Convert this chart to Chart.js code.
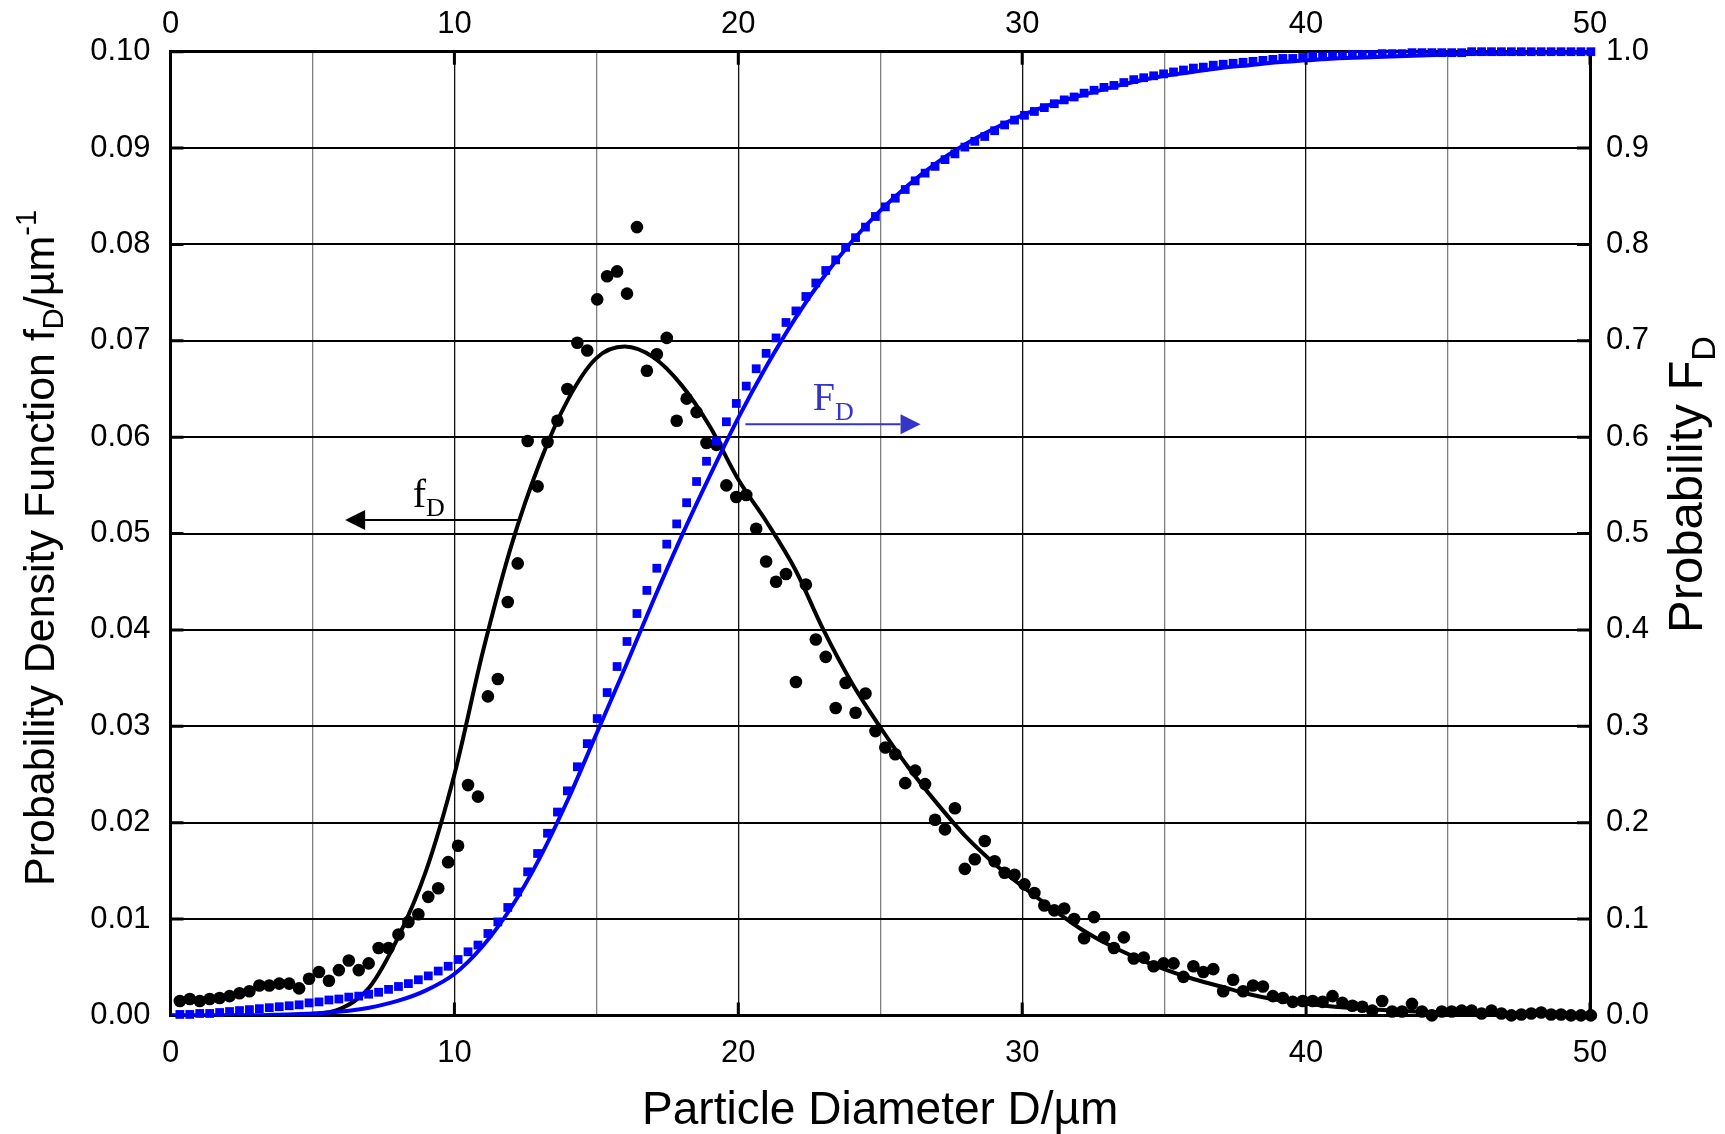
<!DOCTYPE html>
<html>
<head>
<meta charset="utf-8">
<title>Particle diameter distribution</title>
<script src="https://cdn.jsdelivr.net/npm/chart.js@4.4.1/dist/chart.umd.min.js"></script>
<style>
  html, body { margin: 0; padding: 0; background: #fff; }
  #wrap { width: 1725px; height: 1134px; }
</style>
</head>
<body>
<div id="wrap"><canvas id="psd" width="1725" height="1134"></canvas></div>
<script>
// Measured diameters (µm), shared by the density dots and the cumulative squares
const diam = [
  0.33, 0.68, 1.03, 1.38, 1.73, 2.08, 2.43, 2.78, 3.13, 3.48,
  3.83, 4.18, 4.53, 4.88, 5.23, 5.58, 5.93, 6.28, 6.63, 6.98,
  7.33, 7.68, 8.03, 8.38, 8.73, 9.08, 9.43, 9.78, 10.13, 10.48,
  10.83, 11.18, 11.53, 11.88, 12.23, 12.58, 12.93, 13.28, 13.63, 13.98,
  14.33, 14.68, 15.03, 15.38, 15.73, 16.08, 16.43, 16.78, 17.13, 17.48,
  17.83, 18.18, 18.53, 18.88, 19.23, 19.58, 19.93, 20.28, 20.63, 20.98,
  21.33, 21.68, 22.03, 22.38, 22.73, 23.08, 23.43, 23.78, 24.13, 24.48,
  24.83, 25.18, 25.53, 25.88, 26.23, 26.58, 26.93, 27.28, 27.63, 27.98,
  28.33, 28.68, 29.03, 29.38, 29.73, 30.08, 30.43, 30.78, 31.13, 31.48,
  31.83, 32.18, 32.53, 32.88, 33.23, 33.58, 33.93, 34.28, 34.63, 34.98,
  35.33, 35.68, 36.03, 36.38, 36.73, 37.08, 37.43, 37.78, 38.13, 38.48,
  38.83, 39.18, 39.53, 39.88, 40.23, 40.58, 40.93, 41.28, 41.63, 41.98,
  42.33, 42.68, 43.03, 43.38, 43.73, 44.08, 44.43, 44.78, 45.13, 45.48,
  45.83, 46.18, 46.53, 46.88, 47.23, 47.58, 47.93, 48.28, 48.63, 48.98,
  49.33, 49.68, 50.03
];

// Probability density f_D (left axis), black dots
const fMeasured = [
  0.0015, 0.0017, 0.0015, 0.0017, 0.0018, 0.0020, 0.0023, 0.0025, 0.0031, 0.0031,
  0.0033, 0.0033, 0.0028, 0.0038, 0.0045, 0.0036, 0.0047, 0.0057, 0.0047, 0.0054,
  0.0070, 0.0070, 0.0084, 0.0097, 0.0105, 0.0123, 0.0132, 0.0159, 0.0176, 0.0239,
  0.0227, 0.0331, 0.0349, 0.0429, 0.0469, 0.0596, 0.0549, 0.0595, 0.0617, 0.0650,
  0.0698, 0.0690, 0.0743, 0.0767, 0.0772, 0.0749, 0.0818, 0.0669, 0.0686, 0.0703,
  0.0617, 0.0640, 0.0626, 0.0594, 0.0592, 0.0550, 0.0538, 0.0540, 0.0505, 0.0471,
  0.0450, 0.0458, 0.0346, 0.0447, 0.0390, 0.0372, 0.0319, 0.0345, 0.0314, 0.0334,
  0.0295, 0.0278, 0.0271, 0.0241, 0.0254, 0.0240, 0.0203, 0.0193, 0.0215, 0.0152,
  0.0162, 0.0181, 0.0160, 0.0148, 0.0146, 0.0136, 0.0127, 0.0114, 0.0109, 0.0111,
  0.0100, 0.0080, 0.0102, 0.0081, 0.0070, 0.0081, 0.0059, 0.0060, 0.0051, 0.0054,
  0.0054, 0.0040, 0.0051, 0.0045, 0.0048, 0.0025, 0.0037, 0.0025, 0.0031, 0.0030,
  0.0020, 0.0018, 0.0014, 0.0015, 0.0015, 0.0014, 0.0020, 0.0013, 0.0010, 0.0009,
  0.0005, 0.0015, 0.0004, 0.0004, 0.0012, 0.0004, 0.0000, 0.0004, 0.0004, 0.0005,
  0.0005, 0.0002, 0.0005, 0.0002, 0.0000, 0.0001, 0.0002, 0.0003, 0.0001, 0.0001,
  0.0000, 0.0000, 0.0000
];

// Cumulative probability F_D (right axis), blue squares
const FMeasured = [
  0.001, 0.001, 0.002, 0.002, 0.003, 0.004, 0.005, 0.006, 0.007, 0.008,
  0.009, 0.010, 0.011, 0.013, 0.014, 0.016, 0.017, 0.019, 0.020, 0.022,
  0.024, 0.027, 0.030, 0.033, 0.037, 0.041, 0.046, 0.051, 0.058, 0.066,
  0.073, 0.085, 0.097, 0.112, 0.128, 0.149, 0.168, 0.189, 0.211, 0.233,
  0.258, 0.282, 0.308, 0.335, 0.362, 0.388, 0.417, 0.441, 0.464, 0.489,
  0.510, 0.532, 0.554, 0.575, 0.596, 0.616, 0.635, 0.653, 0.671, 0.687,
  0.703, 0.719, 0.731, 0.746, 0.760, 0.773, 0.784, 0.797, 0.807, 0.818,
  0.829, 0.839, 0.848, 0.857, 0.866, 0.874, 0.881, 0.888, 0.894, 0.901,
  0.907, 0.912, 0.918, 0.924, 0.929, 0.934, 0.938, 0.942, 0.946, 0.950,
  0.953, 0.957, 0.960, 0.963, 0.965, 0.968, 0.971, 0.973, 0.975, 0.977,
  0.979, 0.981, 0.983, 0.984, 0.986, 0.987, 0.988, 0.989, 0.990, 0.991,
  0.992, 0.993, 0.993, 0.994, 0.995, 0.995, 0.996, 0.996, 0.997, 0.997,
  0.997, 0.998, 0.998, 0.998, 0.999, 0.999, 0.999, 0.999, 0.999, 0.999,
  1.000, 1.000, 1.000, 1.000, 1.000, 1.000, 1.000, 1.000, 1.000, 1.000,
  1.000, 1.000, 1.000
];

// Fitted curves, read at whole micrometres
const fitDiam = [
  0, 1, 2, 3, 4, 5, 6, 7, 8, 9, 10, 11, 12, 13, 14, 15, 16, 17, 18, 19, 20,
  21, 22, 23, 24, 25, 26, 27, 28, 29, 30, 31, 32, 33, 34, 35, 36, 37, 38, 39, 40,
  41, 42, 43, 44, 45, 46, 47, 48, 49, 50
];
const fFit = [
  0, 0, 0, 0, 0, 0.0001, 0.0007, 0.0029, 0.0080, 0.0150, 0.0250,
  0.0377, 0.0487, 0.0573, 0.0639, 0.0682, 0.0694, 0.0683, 0.0654, 0.0611, 0.0556,
  0.0512, 0.0463, 0.0400, 0.0345, 0.0299, 0.0257, 0.0220, 0.0186, 0.0158, 0.0134,
  0.0112, 0.0091, 0.0074, 0.0060, 0.0048, 0.0038, 0.0030, 0.0022, 0.0016, 0.0012,
  0.0009, 0.0007, 0.0005, 0.0004, 0.0003, 0.0002, 0.0001, 0.0001, 0, 0
];
const FFit = [
  0, 0, 0, 0, 0.001, 0.002, 0.004, 0.008, 0.015, 0.026, 0.043,
  0.072, 0.112, 0.163, 0.224, 0.292, 0.360, 0.430, 0.497, 0.560, 0.620,
  0.674, 0.723, 0.766, 0.803, 0.835, 0.862, 0.885, 0.904, 0.920, 0.934,
  0.945, 0.954, 0.962, 0.969, 0.975, 0.979, 0.983, 0.986, 0.989, 0.991,
  0.993, 0.994, 0.995, 0.996, 0.997, 0.998, 0.998, 0.999, 0.999, 0.999
];

const xTicksTop = [0, 10, 20, 30, 40, 50];
const SANS = '"Liberation Sans", Arial, sans-serif';
const SERIF = '"Liberation Serif", "Times New Roman", serif';
const BLUE = '#0000ff';
const NOTE_BLUE = '#3535c8';

function pts(xs, ys) { return xs.map((x, i) => ({ x: x, y: ys[i] })); }

function runs(ctx, parts) {
  let x = 0;
  parts.forEach(p => {
    ctx.font = p[1];
    ctx.fillText(p[0], x, p[2]);
    x += ctx.measureText(p[0]).width;
  });
  return x;
}

function arrow(ctx, x1, x2, y, color) {
  const dir = x2 > x1 ? 1 : -1;
  const head = 20;
  ctx.strokeStyle = color;
  ctx.fillStyle = color;
  ctx.lineWidth = 2;
  ctx.beginPath();
  ctx.moveTo(x1, y);
  ctx.lineTo(x2 - dir * head, y);
  ctx.stroke();
  ctx.beginPath();
  ctx.moveTo(x2, y);
  ctx.lineTo(x2 - dir * head, y - 10);
  ctx.lineTo(x2 - dir * head, y + 10);
  ctx.closePath();
  ctx.fill();
}

const decor = {
  id: 'decor',
  beforeDraw(chart) {
    const c = chart.ctx;
    c.save();
    c.fillStyle = '#fff';
    c.fillRect(0, 0, chart.width, chart.height);
    c.restore();
  },
  beforeDatasetsDraw(chart) {
    // short inward tick marks
    const c = chart.ctx, a = chart.chartArea, s = chart.scales;
    c.save();
    c.strokeStyle = '#000';
    c.lineWidth = 3;
    c.beginPath();
    s.y.ticks.forEach(t => {
      const y = s.y.getPixelForValue(t.value);
      c.moveTo(a.left, y); c.lineTo(a.left + 13, y);
    });
    s.y2.ticks.forEach(t => {
      const y = s.y2.getPixelForValue(t.value);
      c.moveTo(a.right, y); c.lineTo(a.right - 13, y);
    });
    s.x2.ticks.forEach(t => {
      const x = s.x2.getPixelForValue(t.value);
      c.moveTo(x, a.top); c.lineTo(x, a.top + 13);
      c.moveTo(x, a.bottom); c.lineTo(x, a.bottom - 13);
    });
    c.stroke();
    c.restore();
  },
  afterDraw(chart) {
    const c = chart.ctx, s = chart.scales;
    c.save();
    c.fillStyle = '#000';
    c.textBaseline = 'alphabetic';

    // bottom axis title
    c.textAlign = 'center';
    c.font = '46px ' + SANS;
    c.fillText('Particle Diameter D/µm', (chart.chartArea.left + chart.chartArea.right) / 2, 1124);
    c.textAlign = 'left';

    // left axis title
    c.save();
    c.translate(54, 886);
    c.rotate(-Math.PI / 2);
    runs(c, [
      ['Probability Density Function f', '43px ' + SANS, 0],
      ['D', '29px ' + SANS, 9],
      ['/µm', '43px ' + SANS, 0],
      ['-1', '29px ' + SANS, -18]
    ]);
    c.restore();

    // right axis title
    c.save();
    c.translate(1702, 633);
    c.rotate(-Math.PI / 2);
    runs(c, [
      ['Probability F', '49px ' + SANS, 0],
      ['D', '34px ' + SANS, 13]
    ]);
    c.restore();

    // f_D note with arrow to the left axis
    const fy = s.y.getPixelForValue(0.0514);
    arrow(c, s.x.getPixelForValue(12.35), s.x.getPixelForValue(6.15), fy, '#000');
    c.fillStyle = '#000';
    c.save();
    c.translate(s.x.getPixelForValue(8.53), s.y.getPixelForValue(0.0528));
    runs(c, [['f', '40px ' + SERIF, 0], ['D', '26px ' + SERIF, 9]]);
    c.restore();

    // F_D note with arrow to the right axis
    const Fy = s.y2.getPixelForValue(0.6135);
    arrow(c, s.x.getPixelForValue(20.25), s.x.getPixelForValue(26.42), Fy, NOTE_BLUE);
    c.fillStyle = NOTE_BLUE;
    c.save();
    c.translate(s.x.getPixelForValue(22.62), s.y2.getPixelForValue(0.628));
    runs(c, [['F', '40px ' + SERIF, 0], ['D', '26px ' + SERIF, 10]]);
    c.restore();

    c.restore();
  }
};

const tickFont = { family: SANS, size: 31 };

new Chart(document.getElementById('psd'), {
  type: 'scatter',
  data: {
    datasets: [
      {
        label: 'f_D fit',
        data: pts(fitDiam, fFit),
        showLine: true,
        borderColor: '#000',
        borderWidth: 4,
        pointRadius: 0,
        cubicInterpolationMode: 'monotone',
        xAxisID: 'x', yAxisID: 'y',
        order: 3
      },
      {
        label: 'f_D measured',
        data: pts(diam, fMeasured),
        pointStyle: 'circle',
        pointRadius: 6.3,
        backgroundColor: '#000',
        borderWidth: 0,
        xAxisID: 'x', yAxisID: 'y',
        clip: false,
        order: 2
      },
      {
        label: 'F_D measured',
        data: pts(diam, FMeasured),
        pointStyle: 'rect',
        pointRadius: 6.2,
        backgroundColor: BLUE,
        borderWidth: 0,
        xAxisID: 'x', yAxisID: 'y2',
        clip: false,
        order: 1
      },
      {
        label: 'F_D fit',
        data: pts(fitDiam, FFit),
        showLine: true,
        borderColor: BLUE,
        borderWidth: 4,
        pointRadius: 0,
        cubicInterpolationMode: 'monotone',
        xAxisID: 'x', yAxisID: 'y2',
        order: 0
      }
    ]
  },
  options: {
    responsive: false,
    animation: false,
    devicePixelRatio: 1,
    layout: { padding: 0 },
    plugins: { legend: { display: false }, tooltip: { enabled: false } },
    scales: {
      x: {
        type: 'linear', position: 'bottom', min: 0, max: 50,
        afterFit: s => { s.height = 118.6; },
        ticks: {
          stepSize: 5, autoSkip: false, maxRotation: 0, padding: 19,
          color: '#000', font: tickFont,
          callback: v => (v % 10 === 0 ? String(v) : '')
        },
        grid: {
          drawTicks: false,
          color: c => (c.tick && c.tick.value % 10 === 0 ? '#111' : '#808080'),
          lineWidth: 1.3
        },
        border: { color: '#000', width: 3 }
      },
      x2: {
        type: 'linear', position: 'top', min: 0, max: 50,
        afterFit: s => { s.height = 51.7; },
        afterBuildTicks: s => { s.ticks = xTicksTop.map(v => ({ value: v })); },
        ticks: { autoSkip: false, maxRotation: 0, padding: 9, color: '#000', font: tickFont },
        grid: { display: false, drawTicks: false },
        border: { color: '#000', width: 3 }
      },
      y: {
        type: 'linear', position: 'left', min: 0, max: 0.1,
        afterFit: s => { s.width = 170.5; },
        ticks: {
          stepSize: 0.01, padding: 20, color: '#000', font: tickFont,
          callback: v => v.toFixed(2)
        },
        grid: { drawTicks: false, color: '#000', lineWidth: 2 },
        border: { color: '#000', width: 3 }
      },
      y2: {
        type: 'linear', position: 'right', min: 0, max: 1,
        afterFit: s => { s.width = 135; },
        ticks: {
          stepSize: 0.1, padding: 16, color: '#000', font: tickFont,
          callback: v => v.toFixed(1)
        },
        grid: { display: false, drawTicks: false },
        border: { color: '#000', width: 3 }
      }
    }
  },
  plugins: [decor]
});
</script>
</body>
</html>
